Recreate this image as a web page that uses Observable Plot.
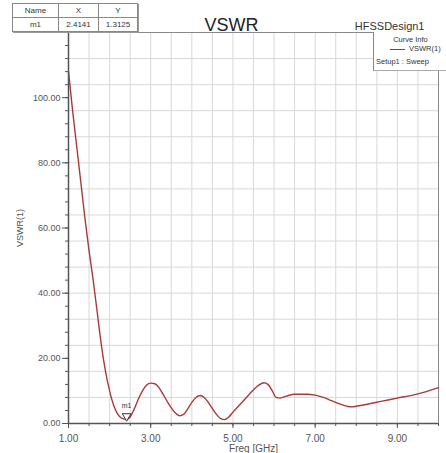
<!DOCTYPE html>
<html>
<head>
<meta charset="utf-8">
<script src="https://cdn.jsdelivr.net/npm/d3@7"></script>
<script src="https://cdn.jsdelivr.net/npm/@observablehq/plot@0.6"></script>
<style>
  html, body { margin: 0; padding: 0; background: #fff; }
  #wrap { position: relative; width: 446px; height: 453px; overflow: hidden; font-family: "Liberation Sans", Arial, sans-serif; }
  #chart svg { display: block; }
  .tbl { position: absolute; left: 12px; top: 3px; border-collapse: collapse; background: #fff;
         box-shadow: 1px 1px 0 #999; font-size: 8px; color: #333; }
  .tbl td { border: 1px solid #888; text-align: center; padding: 0; height: 13px; }
  .legend { position: absolute; left: 373px; top: 32px; width: 90px; height: 38px; background: #fff;
            border-left: 1px solid #888; border-bottom: 1px solid #aaa; font-size: 7.5px; color: #333; }
  .hdr { position: absolute; font-size: 11px; color: #333; }
</style>
</head>
<body>
<div id="wrap">
  <div id="chart"></div>
</div>
<script>
// ---- data ----
const freq = [1.00, 1.05, 1.10, 1.20, 1.30, 1.40, 1.50, 1.60, 1.70, 1.80, 1.90, 2.00, 2.10, 2.20, 2.30, 2.41,
  2.50, 2.60, 2.70, 2.80, 2.90, 3.00, 3.10, 3.20, 3.30, 3.40, 3.50, 3.60, 3.70, 3.80, 3.90, 4.00, 4.10,
  4.20, 4.30, 4.40, 4.50, 4.60, 4.70, 4.80, 4.90, 5.00, 5.20, 5.40, 5.60, 5.75, 5.85, 5.95, 6.05, 6.15,
  6.30, 6.50, 6.80, 7.00, 7.20, 7.40, 7.60, 7.80, 7.90, 8.00, 8.30, 8.60, 9.00, 9.40, 9.70, 10.0];
const vswr = [108, 102, 96, 85, 74, 63, 53, 44, 34, 24, 16, 10, 5.5, 2.8, 1.6, 1.31,
  2.0, 4.5, 7.5, 10, 11.8, 12.4, 12.2, 11, 9, 6.8, 4.8, 3.2, 2.4, 2.8, 4.5, 6.5, 8.0,
  8.6, 8.0, 6.5, 4.6, 2.8, 1.5, 1.2, 2.0, 3.5, 6.2, 9.0, 11.5, 12.5, 12.0, 10.2, 8.0, 7.8,
  8.4, 9.0, 9.0, 8.7, 8.0, 7.0, 6.0, 5.2, 5.1, 5.3, 6.0, 6.8, 7.8, 8.8, 9.8, 11.0];
const xTicks = [1, 3, 5, 7, 9];
const yTicks = [0, 20, 40, 60, 80, 100];
const markerName = ["m1"];
const markerX = [2.4141];
const markerY = [1.3125];
const titleText = "VSWR";
const designText = "HFSSDesign1";
const curveName = "VSWR(1)";
const setupName = "Setup1 : Sweep";

const xMinor = d3.range(1, 10.01, 0.5);
const yMinor = d3.range(0, 120.01, 4);
const yGrid = d3.range(0, 120.01, 8);

const rows = freq.map((f, i) => ({f, v: vswr[i]}));
const markers = markerName.map((n, i) => ({n, x: markerX[i], y: markerY[i]}));

const chart = Plot.plot({
  width: 446, height: 453,
  marginLeft: 68, marginRight: 8, marginTop: 32, marginBottom: 30,
  style: {fontFamily: "Liberation Sans, Arial, sans-serif", fontSize: "9px", color: "#444", background: "#fff"},
  x: {domain: [1, 10], label: null},
  y: {domain: [0, 120], label: null},
  marks: [
    Plot.gridX(xMinor, {stroke: "#d8d8d8", strokeOpacity: 1}),
    Plot.gridY(yGrid, {stroke: "#d8d8d8", strokeOpacity: 1}),
    Plot.frame({stroke: "#888"}),
    Plot.line(rows, {x: "f", y: "v", stroke: "#a83a3a", strokeWidth: 1.4, curve: "monotone-x"}),
    Plot.ruleX([1], {stroke: "#555", strokeWidth: 1.5}),
    Plot.ruleY([0], {stroke: "#555", strokeWidth: 1.5}),
    Plot.axisX(xMinor, {tickSize: 3, tickFormat: () => "", stroke: "#555"}),
    Plot.axisX(xTicks, {tickSize: 5, tickPadding: 6, tickFormat: d => d.toFixed(2), stroke: "#555", fill: "#555", fontSize: 10,
      label: "Freq [GHz]", labelAnchor: "center", labelArrow: "none", labelOffset: 28}),
    Plot.axisY(yMinor, {tickSize: 3, tickFormat: () => "", stroke: "#555"}),
    Plot.axisY(yTicks, {tickSize: 6, tickPadding: 2, tickFormat: d => d.toFixed(2), stroke: "#555", fill: "#555", fontSize: 9,
      label: "VSWR(1)", labelAnchor: "center", labelArrow: "none", labelOffset: 52}),
    Plot.dot(markers, {x: "x", y: "y", symbol: "triangle", rotate: 180, r: 3.2, stroke: "#333", fill: "#fff", strokeWidth: 1, dy: -3}),
    Plot.text(markers, {x: "x", y: "y", text: "n", dy: -13, fontSize: 7, fill: "#333"}),
    Plot.text([titleText], {frameAnchor: "top", dy: -14, fontSize: 18, fill: "#222", dx: -22}),
    Plot.text([designText], {frameAnchor: "top-right", dy: -10, dx: -14, fontSize: 11, fill: "#333", textAnchor: "end"})
  ]
});
document.getElementById("chart").appendChild(chart);

// marker table
const wrap = document.getElementById("wrap");
const tbl = document.createElement("table");
tbl.className = "tbl";
const widths = [45, 39, 38];
const head = ["Name", "X", "Y"];
const tr1 = document.createElement("tr");
head.forEach((h, i) => { const td = document.createElement("td"); td.textContent = h; td.style.width = widths[i] + "px"; tr1.appendChild(td); });
tbl.appendChild(tr1);
markers.forEach(m => {
  const tr = document.createElement("tr");
  [m.n, m.x.toFixed(4), m.y.toFixed(4)].forEach(t => { const td = document.createElement("td"); td.textContent = t; tr.appendChild(td); });
  tbl.appendChild(tr);
});
wrap.appendChild(tbl);

// legend
const lg = document.createElement("div");
lg.className = "legend";
lg.innerHTML = `<div style="position:absolute;left:0;width:73px;top:3px;text-align:center;">Curve Info</div>
<div style="position:absolute;left:16px;top:17px;width:15px;border-top:1.5px solid #b03030;"></div>
<div style="position:absolute;left:35px;top:12px;white-space:nowrap;">${curveName}</div>
<div style="position:absolute;left:2px;top:25px;white-space:nowrap;">${setupName}</div>`;
wrap.appendChild(lg);
</script>
</body>
</html>
